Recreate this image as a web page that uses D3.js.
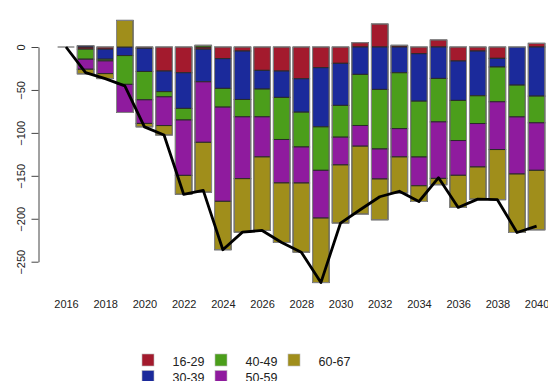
<!DOCTYPE html>
<html>
<head>
<meta charset="utf-8">
<script src="https://cdn.jsdelivr.net/npm/d3@7"></script>
<style>
  html, body { margin: 0; padding: 0; background: #fff; }
  svg { display: block; font-family: "Liberation Sans", Arial, Helvetica, sans-serif; }
</style>
</head>
<body>
<svg id="chart" width="548" height="381"></svg>
<script>
// ---- data ----
const years = d3.range(2016, 2041);
const tickYears = [2016, 2018, 2020, 2022, 2024, 2026, 2028, 2030, 2032, 2034, 2036, 2038, 2040];
const yTicks = [0, -50, -100, -150, -200, -250];
const groups = ["16-29", "30-39", "40-49", "50-59", "60-67"];
const colors = ["#A31A2D", "#1B2A9B", "#4B9E1B", "#8F1B9E", "#A08E1B"];

const age16_29 = [0, -2.5, -2.5, 0, -1.5, -28, -30, -2.5, -13.6, -4.7, -27.2, -28, -37, -24.1, -19, 5, 26.8, 2, -7.8, 8.2, -16.3, -4.7, -13.2, 0, 4.3];
const age30_39 = [0, 1.5, -11.7, -10, -27, -24, -41.5, -38, -34.6, -56.4, -21.8, -30.7, -38.9, -68.9, -49, -31.9, -49.4, -30, -55.3, -36.6, -45.9, -52.1, -10.1, -44.4, -57.2];
const age40_49 = [0, -11.7, -2, -33.5, -33, -6, -13.5, 2, -21.8, -20.2, -32.3, -49, -40.5, -50.6, -37, -59.5, -69.3, -65, -65, -50.6, -46.7, -32.3, -40.5, -37, -31.1];
const age50_59 = [0, -11.7, -14.8, -32.7, -27.5, -33.5, -64.5, -70.5, -109.7, -72, -46.7, -50.6, -42, -55.6, -32.3, -24.1, -35, -33, -33.5, -65.8, -40.5, -50.6, -55.6, -66.5, -55.3];
const age60_67 = [0, -5.4, -5.8, 31, -4, -11, -22, -58, -56.4, -62.3, -85.6, -69.3, -80.5, -75.1, -67.7, -79, -47.5, -42, -18.3, -7.4, -37.4, -37.4, -58.4, -68.1, -69.3];

const series = [age16_29, age30_39, age40_49, age50_59, age60_67];
const table = years.map((yr, i) => {
  const row = { year: yr };
  groups.forEach((g, k) => row[g] = series[k][i]);
  return row;
});
const totals = years.map((yr, i) => ({ year: yr, total: d3.sum(series, s => s[i]) }));

// ---- scales ----
const svg = d3.select("#chart");
const x = d3.scaleLinear().domain([2016, 2040]).range([66, 536.6]);
const y = d3.scaleLinear().domain([-250, 0]).range([261.7, 47]);
const barW = 16.6;

const stack = d3.stack().keys(groups).offset(d3.stackOffsetDiverging);
const stacked = stack(table);

// ---- bars ----
const layers = svg.append("g").selectAll("g")
  .data(stacked).join("g")
  .attr("fill", (d, i) => colors[i]);

layers.selectAll("rect")
  .data(d => d.filter(p => p[1] !== p[0]))
  .join("rect")
  .attr("x", p => x(p.data.year) - barW / 2)
  .attr("width", barW)
  .attr("y", p => y(Math.max(p[0], p[1])))
  .attr("height", p => Math.abs(y(p[0]) - y(p[1])))
  .attr("stroke", "#2a2a2a")
  .attr("stroke-width", 1);

// outline of each bar (also renders zero-height bars as a line)
svg.append("g").selectAll("path")
  .data(table)
  .join("path")
  .attr("d", d => {
    const vals = groups.map(g => d[g]);
    const pos = d3.sum(vals.filter(v => v > 0));
    const neg = d3.sum(vals.filter(v => v < 0));
    const x0 = x(d.year) - barW / 2;
    const yt = y(pos), yb = y(neg);
    return `M${x0},${yt}h${barW}V${yb}h${-barW}Z`;
  })
  .attr("fill", "none")
  .attr("stroke", "#8a8a8a")
  .attr("stroke-width", 1);

// ---- total line ----
svg.append("path")
  .datum(totals)
  .attr("fill", "none")
  .attr("stroke", "#000")
  .attr("stroke-width", 2.8)
  .attr("stroke-linejoin", "round")
  .attr("d", d3.line().x(d => x(d.year)).y(d => y(d.total)));

// ---- y axis ----
const yAxis = svg.append("g")
  .attr("transform", "translate(38.5,0)")
  .call(d3.axisLeft(y).tickValues(yTicks).tickSize(7).tickSizeOuter(0).tickFormat(d3.format("d")));
yAxis.select(".domain").attr("stroke", "#444");
yAxis.selectAll(".tick line").attr("stroke", "#444");
yAxis.selectAll(".tick text")
  .attr("x", 0).attr("y", -14).attr("dy", 0)
  .attr("transform", "rotate(-90)")
  .attr("text-anchor", "middle")
  .attr("font-size", 11)
  .attr("font-family", "Liberation Sans, Arial, sans-serif")
  .attr("fill", "#222");

// ---- x axis ----
const xAxis = svg.append("g")
  .attr("transform", "translate(0,308)")
  .call(d3.axisBottom(x).tickValues(tickYears).tickSize(0).tickFormat(d3.format("d")));
xAxis.select(".domain").remove();
xAxis.selectAll(".tick text")
  .attr("y", 0).attr("dy", 0)
  .attr("font-size", 11)
  .attr("font-family", "Liberation Sans, Arial, sans-serif")
  .attr("fill", "#222");

// ---- legend ----
const legPos = [[142, 354], [142, 370.5], [215, 354], [215, 370.5], [288, 354]];
const leg = svg.append("g").selectAll("g")
  .data(groups).join("g")
  .attr("transform", (d, i) => `translate(${legPos[i][0]},${legPos[i][1]})`);
leg.append("rect")
  .attr("width", 12).attr("height", 12)
  .attr("fill", (d, i) => colors[i])
  .attr("stroke", "#bbb").attr("stroke-width", 0.6);
leg.append("text")
  .attr("x", 30.5).attr("y", 11.5)
  .attr("font-size", 12.5)
  .attr("fill", "#222")
  .text(d => d);
</script>
</body>
</html>
